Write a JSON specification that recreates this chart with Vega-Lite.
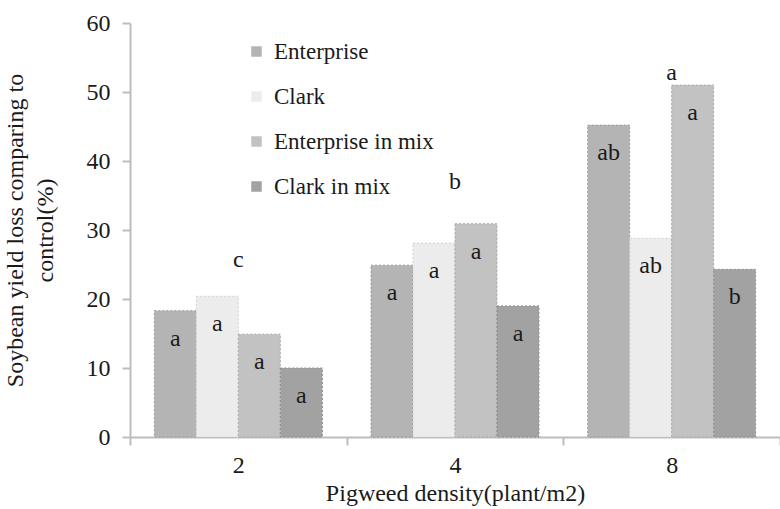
{
  "$schema": "https://vega.github.io/schema/vega-lite/v6.json",
  "width": 650,
  "height": 414,
  "autosize": {"type": "none"},
  "padding": {"left": 130, "top": 23, "right": 0, "bottom": 72},
  "config": {
    "view": {"stroke": null},
    "font": "Liberation Serif",
    "text": {"font": "Liberation Serif"},
    "axis": {"labelFont": "Liberation Serif", "titleFont": "Liberation Serif", "labelColor": "#1a1a1a", "titleColor": "#1a1a1a", "titleFontWeight": "normal"},
    "legend": {"labelFont": "Liberation Serif", "labelColor": "#1a1a1a"}
  },
  "datasets": {
    "bars": [
      {"density": "2", "variety": "Enterprise", "loss": 18.3, "letter": "a"},
      {"density": "2", "variety": "Clark", "loss": 20.4, "letter": "a"},
      {"density": "2", "variety": "Enterprise in mix", "loss": 14.9, "letter": "a"},
      {"density": "2", "variety": "Clark in mix", "loss": 10.0, "letter": "a"},
      {"density": "4", "variety": "Enterprise", "loss": 24.9, "letter": "a"},
      {"density": "4", "variety": "Clark", "loss": 28.1, "letter": "a"},
      {"density": "4", "variety": "Enterprise in mix", "loss": 30.9, "letter": "a"},
      {"density": "4", "variety": "Clark in mix", "loss": 19.0, "letter": "a"},
      {"density": "8", "variety": "Enterprise", "loss": 45.2, "letter": "ab"},
      {"density": "8", "variety": "Clark", "loss": 28.8, "letter": "ab"},
      {"density": "8", "variety": "Enterprise in mix", "loss": 51.0, "letter": "a"},
      {"density": "8", "variety": "Clark in mix", "loss": 24.3, "letter": "b"}
    ],
    "groups": [
      {"density": "2", "pos": 25.6, "letter": "c"},
      {"density": "4", "pos": 37.0, "letter": "b"},
      {"density": "8", "pos": 52.8, "letter": "a"}
    ]
  },
  "layer": [
    {
      "data": {"name": "bars"},
      "mark": {"type": "bar", "strokeDash": [2, 2], "strokeWidth": 1},
      "encoding": {
        "x": {
          "field": "density", "type": "ordinal", "sort": ["2", "4", "8"],
          "scale": {"paddingInner": 0, "paddingOuter": 0},
          "axis": {
            "title": "Pigweed density(plant/m2)", "labelAngle": 0, "labelFontSize": 24, "titleFontSize": 24,
            "domainColor": "#bdbdbd", "domainWidth": 2, "tickColor": "#bdbdbd", "tickWidth": 2, "tickSize": 8, "tickBand": "extent",
            "labelPadding": 8, "titlePadding": 4
          }
        },
        "xOffset": {
          "field": "variety", "type": "nominal",
          "sort": ["Enterprise", "Clark", "Enterprise in mix", "Clark in mix"],
          "scale": {"paddingInner": 0, "paddingOuter": 0.58}
        },
        "y": {
          "field": "loss", "type": "quantitative",
          "scale": {"domain": [0, 60], "nice": false},
          "axis": {
            "title": ["Soybean yield loss comparing to", "control(%)"], "titleFontSize": 24, "titleLineHeight": 30,
            "values": [0, 10, 20, 30, 40, 50, 60], "grid": false, "labelFontSize": 24,
            "domainColor": "#bdbdbd", "domainWidth": 2, "tickColor": "#bdbdbd", "tickWidth": 2, "tickSize": 8,
            "labelPadding": 12, "titlePadding": 29
          }
        },
        "fill": {
          "field": "variety", "type": "nominal",
          "sort": ["Enterprise", "Clark", "Enterprise in mix", "Clark in mix"],
          "scale": {"domain": ["Enterprise", "Clark", "Enterprise in mix", "Clark in mix"], "range": ["#b4b4b4", "#ececec", "#c2c2c2", "#a2a2a2"]},
          "legend": {
            "title": null, "orient": "none", "legendX": 115, "legendY": 17, "direction": "vertical",
            "labelFontSize": 23, "symbolType": "square", "symbolSize": 110, "symbolStrokeWidth": 0,
            "rowPadding": 21, "labelOffset": 6
          }
        },
        "stroke": {
          "field": "variety", "type": "nominal",
          "scale": {"domain": ["Enterprise", "Clark", "Enterprise in mix", "Clark in mix"], "range": ["#9a9a9a", "#d0d0d0", "#a8a8a8", "#8c8c8c"]},
          "legend": null
        }
      }
    },
    {
      "data": {"name": "bars"},
      "mark": {"type": "text", "baseline": "middle", "dy": 28, "fontSize": 24, "color": "#1a1a1a"},
      "encoding": {
        "x": {"field": "density", "type": "ordinal", "sort": ["2", "4", "8"]},
        "xOffset": {"field": "variety", "type": "nominal", "sort": ["Enterprise", "Clark", "Enterprise in mix", "Clark in mix"]},
        "y": {"field": "loss", "type": "quantitative"},
        "text": {"field": "letter"}
      }
    },
    {
      "data": {"name": "groups"},
      "mark": {"type": "text", "baseline": "middle", "fontSize": 24, "color": "#1a1a1a"},
      "encoding": {
        "x": {"field": "density", "type": "ordinal", "sort": ["2", "4", "8"]},
        "y": {"field": "pos", "type": "quantitative"},
        "text": {"field": "letter"}
      }
    }
  ]
}
